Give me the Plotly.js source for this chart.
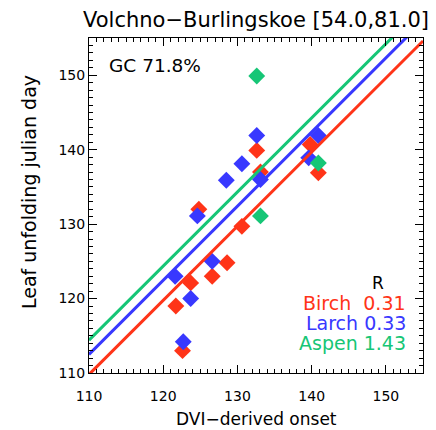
<!DOCTYPE html>
<html>
<head>
<meta charset="utf-8">
<script src="https://cdn.plot.ly/plotly-3.0.1.min.js"></script>
<style>html,body{margin:0;padding:0;background:#fff;}</style>
</head>
<body>
<div id="chart" style="width:436px;height:430px;"></div>
<script>
// Data
const birchX = [121.7, 122.6, 123.7, 124.8, 126.6, 128.6, 130.6, 132.6, 133.1, 139.8, 140.9];
const birchY = [119.0, 113.0, 122.1, 132.0, 123.0, 124.8, 129.7, 139.9, 137.0, 140.7, 136.9];
const larchX = [121.6, 122.7, 123.7, 124.6, 126.6, 128.5, 130.6, 132.6, 133.1, 139.6, 140.9];
const larchY = [123.0, 114.2, 120.0, 131.1, 125.0, 135.9, 138.1, 141.9, 136.0, 138.9, 141.9];
const aspenX = [132.6, 133.1, 140.9];
const aspenY = [149.9, 131.1, 138.2];
const fitX = [110, 155];
const birchFit = [109.8, 154.6];
const larchFit = [112.5, 157.3];
const aspenFit = [114.4, 159.2];
const seriesNames = ['Birch', 'Larch', 'Aspen'];
const seriesR = ['0.31', '0.33', '1.43'];
const xTicks = [110, 120, 130, 140, 150];
const yTicks = [110, 120, 130, 140, 150];

const RED = '#ff3418', BLUE = '#3838ff', GREEN = '#16c676';
const FONT = 'DejaVu Sans, sans-serif';

function pts(x, y, c) {
  return {x: x, y: y, type: 'scatter', mode: 'markers',
    marker: {symbol: 'diamond', size: 13, color: c, line: {width: 0}},
    hoverinfo: 'skip', showlegend: false};
}
function fit(y, c) {
  return {x: fitX, y: y, type: 'scatter', mode: 'lines',
    line: {color: c, width: 3}, hoverinfo: 'skip', showlegend: false};
}

const data = [
  pts(birchX, birchY, RED),
  pts(larchX, larchY, BLUE),
  pts(aspenX, aspenY, GREEN),
  fit(birchFit, RED),
  fit(larchFit, BLUE),
  fit(aspenFit, GREEN)
];

const axisBase = {
  range: [110, 155], showgrid: false, zeroline: false,
  showline: true, linecolor: '#000', linewidth: 1, mirror: 'allticks',
  ticks: 'inside', ticklen: 8, tickwidth: 1, tickcolor: '#000',
  minor: {dtick: 1, ticks: 'inside', ticklen: 4, tickwidth: 1, tickcolor: '#000'},
  tickfont: {family: FONT, size: 14, color: '#000'},
  fixedrange: true
};

const colors = [RED, BLUE, GREEN];
const ann = [
  {text: 'Volchno\u2212Burlingskoe [54.0,81.0]', xref: 'paper', yref: 'paper',
   x: 0.5, y: 1.054, xanchor: 'center', yanchor: 'middle', showarrow: false,
   font: {family: FONT, size: 21, color: '#000'}},
  {text: 'DVI\u2212derived onset', xref: 'paper', yref: 'paper',
   x: 0.5, y: -0.137, xanchor: 'center', yanchor: 'middle', showarrow: false,
   font: {family: FONT, size: 17, color: '#000'}},
  {text: 'Leaf unfolding julian day', xref: 'paper', yref: 'paper',
   x: -0.18, y: 0.54, xanchor: 'center', yanchor: 'middle', showarrow: false,
   textangle: -90, font: {family: FONT, size: 19, color: '#000'}},
  {text: 'GC 71.8%', xref: 'paper', yref: 'paper',
   x: 0.054, y: 0.918, xanchor: 'left', yanchor: 'middle', showarrow: false,
   font: {family: FONT, size: 18.5, color: '#000'}},
  {text: 'R', xref: 'paper', yref: 'paper',
   x: 0.866, y: 0.268, xanchor: 'center', yanchor: 'middle', showarrow: false,
   font: {family: FONT, size: 17, color: '#000'}}
];
const legY = [0.209, 0.149, 0.089];
seriesNames.forEach((n, i) => {
  ann.push({text: n + (n === 'Birch' ? '\u00a0\u00a0' : '\u00a0') + seriesR[i],
    xref: 'paper', yref: 'paper', x: 0.955, y: legY[i],
    xanchor: 'right', yanchor: 'middle', showarrow: false,
    font: {family: FONT, size: 19, color: colors[i]}});
});

const layout = {
  width: 436, height: 430,
  margin: {l: 89, r: 13, t: 38, b: 57, pad: 0},
  paper_bgcolor: '#fff', plot_bgcolor: '#fff',
  xaxis: Object.assign({}, axisBase, {tickvals: xTicks, ticktext: xTicks.map(String), ticklabelstandoff: 10}),
  yaxis: Object.assign({}, axisBase, {tickvals: yTicks, ticktext: yTicks.map(String)}),
  annotations: ann,
  showlegend: false
};

Plotly.newPlot('chart', data, layout, {staticPlot: true, displayModeBar: false});
</script>
</body>
</html>
